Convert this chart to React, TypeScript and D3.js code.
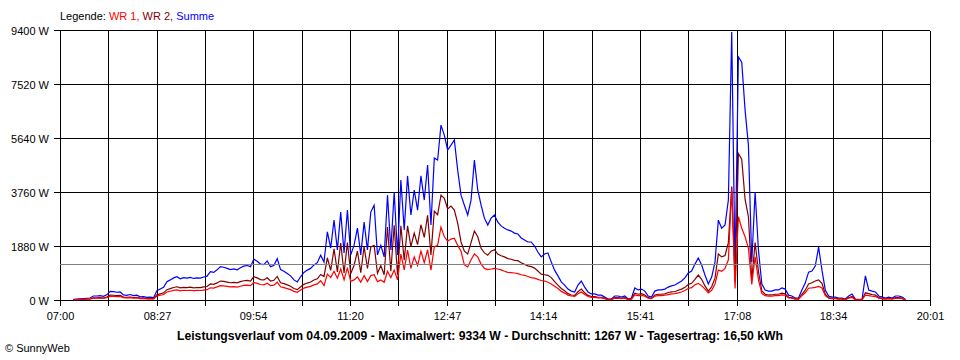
import React from 'react';
import * as d3 from 'd3';

const sampleStart = '07:12';
const sampleStepMinutes = 3;

const summe = [
  20, 30, 40, 50, 60, 70, 140, 140, 150, 130,
  180, 300, 290, 270, 280, 180, 160, 190, 150, 170,
  110, 120, 90, 100, 80, 320, 380, 440, 640, 700,
  770, 810, 740, 780, 760, 790, 750, 770, 760, 800,
  830, 985, 960, 1050, 1160, 1140, 1100, 1060, 1080, 1050,
  1120, 1180, 1200, 1160, 1420, 1350, 1250, 1230, 1360, 1160,
  1200, 1440, 1060, 1000, 920, 840, 700, 630, 810, 960,
  1040, 1100, 1220, 1300, 1560, 1320, 2370, 1810, 2780, 1740,
  3060, 1640, 3130, 1570, 1910, 2500, 1570, 2710, 1740, 3060,
  3300, 1570, 1910, 1500, 3650, 1740, 3760, 1570, 4180, 2440,
  4320, 2960, 3830, 3130, 4320, 3480, 4700, 2610, 4940, 4870,
  6090, 5740, 5220, 5390, 5570, 4520, 3650, 3300, 2960, 3480,
  4870, 3830, 3300, 2850, 2610, 2850, 2960, 2710, 2580, 2500,
  2440, 2400, 2330, 2300, 2160, 2090, 2020, 2020, 1880, 1670,
  1500, 1600, 1640, 1320, 1040, 840, 630, 520, 380, 310,
  280, 520, 660, 450, 280, 210, 210, 170, 170, 100,
  35, 35, 140, 140, 100, 140, 35, 70, 420, 350,
  380, 310, 140, 100, 310, 350, 350, 380, 450, 490,
  520, 590, 660, 770, 940, 1010, 1250, 1460, 1220, 870,
  560, 800, 1320, 2780, 2500, 2610, 3480, 9334, 1040, 8460,
  8280, 6610, 5390, 1320, 3760, 1740, 560, 350, 310, 310,
  350, 350, 420, 380, 170, 140, 70, 70, 350, 590,
  970, 1010, 1180, 1840, 1040, 350, 140, 100, 100, 70,
  70, 35, 140, 210, 35, 20, 20, 840, 350, 310,
  280, 140, 100, 70, 100, 70, 140, 140, 100, 20,
];

const wr2 = [
  10, 15, 20, 25, 30, 35, 75, 75, 80, 70,
  100, 170, 165, 155, 160, 100, 90, 105, 85, 95,
  60, 65, 50, 55, 45, 180, 215, 250, 360, 395,
  435, 460, 420, 440, 430, 450, 425, 435, 430, 455,
  470, 560, 545, 595, 660, 650, 625, 600, 615, 600,
  640, 670, 685, 660, 810, 770, 710, 700, 775, 660,
  685, 820, 600, 570, 525, 480, 400, 360, 460, 545,
  590, 625, 695, 740, 890, 820, 1470, 1030, 1780, 980,
  1980, 940, 2000, 920, 1210, 1700, 950, 1860, 1100, 1850,
  1900, 930, 1200, 880, 2540, 1000, 2600, 870, 2580, 1390,
  2580, 1860, 2330, 1930, 2620, 2180, 2950, 1570, 3090, 2970,
  3650, 3540, 3170, 3270, 3130, 2680, 2020, 1700, 1600, 2000,
  2400, 2200, 1800, 1640, 1560, 1700, 1750, 1600, 1540, 1500,
  1440, 1420, 1380, 1370, 1300, 1240, 1190, 1160, 1110, 1010,
  900, 880, 860, 780, 640, 520, 400, 320, 220, 175,
  160, 290, 380, 250, 160, 120, 120, 95, 95, 55,
  20, 20, 80, 80, 55, 80, 20, 40, 240, 200,
  220, 175, 80, 55, 175, 200, 200, 215, 260, 280,
  295, 340, 380, 440, 540, 580, 720, 870, 720, 490,
  310, 460, 760, 1600, 1500, 1550, 2000, 3950, 640, 5100,
  4900, 3500, 2900, 700, 2000, 1000, 320, 200, 175, 175,
  200, 200, 240, 215, 95, 80, 40, 40, 200, 340,
  560, 600, 660, 700, 580, 200, 80, 55, 55, 40,
  40, 20, 80, 120, 20, 10, 10, 250, 220, 190,
  170, 80, 55, 40, 55, 40, 80, 80, 55, 10,
];

const wr1 = [
  10, 15, 20, 25, 30, 35, 65, 65, 70, 60,
  80, 130, 125, 115, 120, 80, 70, 85, 65, 75,
  50, 55, 40, 45, 35, 140, 165, 190, 280, 305,
  335, 350, 320, 340, 330, 340, 325, 335, 330, 345,
  360, 425, 415, 455, 500, 490, 475, 460, 465, 450,
  480, 510, 515, 500, 610, 580, 540, 530, 585, 500,
  515, 620, 460, 430, 395, 360, 300, 270, 350, 415,
  450, 475, 525, 560, 670, 500, 900, 780, 1000, 760,
  1080, 700, 1130, 650, 700, 800, 620, 850, 640, 850,
  880, 640, 700, 620, 1000, 780, 1040, 700, 1600, 1050,
  1740, 1100, 1500, 1200, 1700, 1300, 1750, 1040, 1850, 1900,
  2540, 2200, 2050, 2120, 2150, 1900, 1700, 1220, 1150, 1400,
  1600, 1500, 1250, 1100, 1060, 1080, 1100, 1080, 1050, 1000,
  960, 950, 940, 920, 880, 860, 820, 780, 760, 720,
  680, 660, 620, 560, 480, 400, 300, 240, 170, 140,
  130, 220, 280, 190, 120, 90, 90, 75, 75, 45,
  15, 15, 60, 60, 45, 60, 15, 30, 180, 150,
  160, 135, 60, 45, 135, 150, 150, 165, 190, 210,
  225, 250, 280, 330, 400, 430, 530, 580, 500, 380,
  250, 340, 560, 1040, 1000, 1100, 1400, 3900, 400, 2900,
  2500, 2200, 1800, 540, 1500, 700, 230, 150, 135, 135,
  150, 150, 180, 165, 75, 60, 30, 30, 150, 250,
  410, 420, 440, 470, 420, 150, 60, 45, 45, 30,
  30, 15, 60, 90, 15, 10, 10, 170, 150, 130,
  120, 60, 45, 30, 45, 30, 60, 60, 45, 10,
];

const yTicks = [0, 1880, 3760, 5640, 7520, 9400];
const yTickLabels = ['0 W', '1880 W', '3760 W', '5640 W', '7520 W', '9400 W'];
const xTickLabels = ['07:00', '08:27', '09:54', '11:20', '12:47', '14:14', '15:41', '17:08', '18:34', '20:01'];
const axisStart = '07:00';
const axisEnd = '20:01';
const averageValue = 1267;
const legendItems = [
  { label: 'WR 1', color: '#ff0000' },
  { label: 'WR 2', color: '#800000' },
  { label: 'Summe', color: '#0000ff' },
];
const titleText =
  'Leistungsverlauf vom 04.09.2009 - Maximalwert: 9334 W - Durchschnitt: 1267 W - Tagesertrag: 16,50 kWh';
const copyright = '\u00A9 SunnyWeb';

const toMin = (s: string) => {
  const [h, m] = s.split(':').map(Number);
  return h * 60 + m;
};

const FONT = "'Liberation Sans', Arial, sans-serif";

export default function App() {
  const left = 60;
  const right = 930;
  const top = 30;
  const bottom = 300;
  const t0 = toMin(axisStart);
  const t1 = toMin(axisEnd);
  const x = d3.scaleLinear().domain([t0, t1]).range([left, right]);
  const y = d3.scaleLinear().domain([0, 9400]).range([bottom, top]);
  const s0 = toMin(sampleStart);

  const gridCount = (xTickLabels.length - 1) * 2;
  const gridTimes = d3.range(gridCount + 1).map((k) => t0 + (k * (t1 - t0)) / gridCount);
  const snap = (v: number) => Math.round(v) + 0.5;

  const line = d3
    .line<number>()
    .x((_, i) => x(s0 + i * sampleStepMinutes))
    .y((d) => y(d))
    .curve(d3.curveLinear);

  const series = [
    { data: summe, color: '#0000ff' },
    { data: wr2, color: '#800000' },
    { data: wr1, color: '#ff0000' },
  ];

  return (
    <svg
      width={960}
      height={360}
      style={{ position: 'absolute', left: 0, top: 0, background: '#fff' }}
      fontFamily={FONT}
    >
      <rect x={0} y={0} width={960} height={360} fill="#fff" />
      <text x={left} y={20} fontSize={11} fill="#000">
        <tspan>Legende: </tspan>
        {legendItems.map((it, i) => (
          <tspan key={it.label} fill={it.color}>
            {it.label}
            {i < legendItems.length - 1 ? ', ' : ''}
          </tspan>
        ))}
      </text>
      {yTicks.map((v, i) => (
        <g key={v}>
          <line
            x1={left - 6}
            x2={right}
            y1={snap(y(v))}
            y2={snap(y(v))}
            stroke="#000"
            strokeWidth={1}
            shapeRendering="crispEdges"
          />
          <text x={left - 11} y={snap(y(v)) + 4} fontSize={11} textAnchor="end" fill="#000">
            {yTickLabels[i]}
          </text>
        </g>
      ))}
      {gridTimes.map((t, k) => (
        <line
          key={k}
          x1={snap(x(t))}
          x2={snap(x(t))}
          y1={snap(y(9400))}
          y2={snap(y(0)) + 5}
          stroke="#000"
          strokeWidth={1}
          shapeRendering="crispEdges"
        />
      ))}
      {xTickLabels.map((lab, k) => (
        <text key={lab} x={snap(x(gridTimes[k * 2]))} y={320} fontSize={11} textAnchor="middle" fill="#000">
          {lab}
        </text>
      ))}
      {series.map((s) => (
        <path key={s.color} d={line(s.data) || ''} fill="none" stroke={s.color} strokeWidth={1.2} />
      ))}
      <line
        x1={left}
        x2={right}
        y1={snap(y(averageValue))}
        y2={snap(y(averageValue))}
        stroke="#808080"
        strokeWidth={1}
        shapeRendering="crispEdges"
      />
      <text x={480} y={340} fontSize={12.2} fontWeight="bold" textAnchor="middle" fill="#000">
        {titleText}
      </text>
      <text x={5} y={352} fontSize={11} fill="#000">
        {copyright}
      </text>
    </svg>
  );
}
